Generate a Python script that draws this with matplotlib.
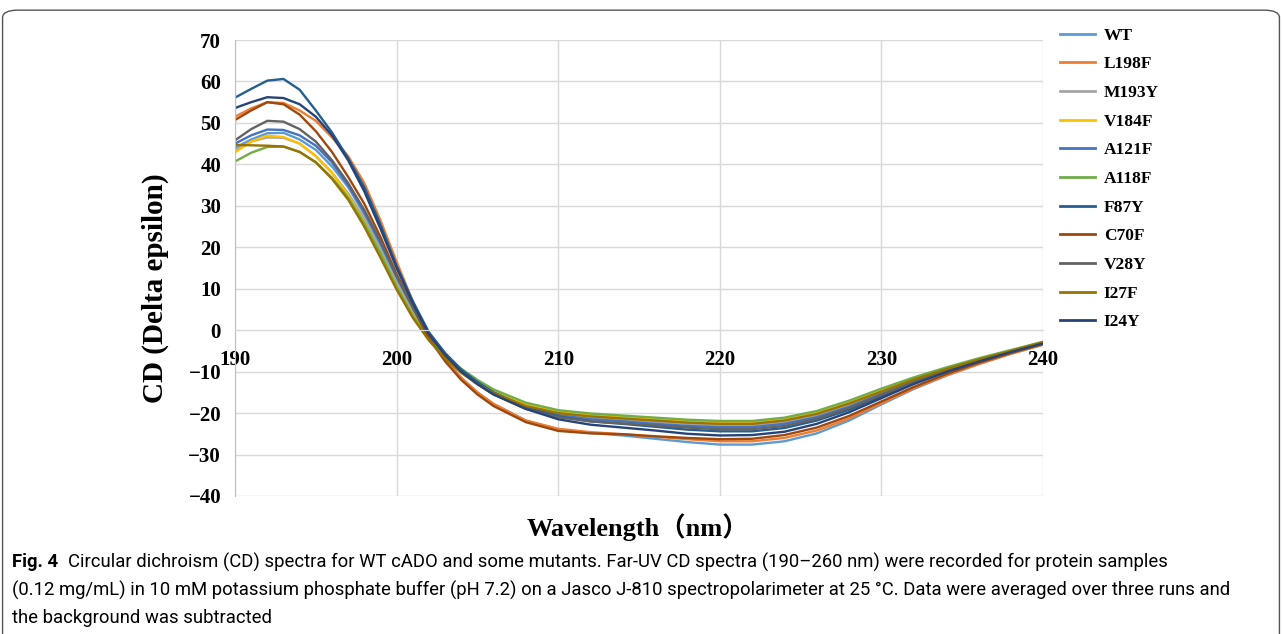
import matplotlib.pyplot as plt
from matplotlib.patches import FancyBboxPatch
from matplotlib.lines import Line2D

# wavelength (nm)
wl = [190, 191, 192, 193, 194, 195, 196, 197, 198, 199, 200, 201, 202, 203, 204, 205, 206,
      208, 210, 212, 214, 216, 218, 220, 222, 224, 226, 228, 230, 232, 234, 236, 238, 240]

names = ['WT', 'L198F', 'M193Y', 'V184F', 'A121F', 'A118F', 'F87Y', 'C70F', 'V28Y', 'I27F', 'I24Y']
colors = ['#5B9BD5', '#ED7D31', '#A5A5A5', '#FFC000', '#4472C4', '#70AD47',
          '#255E91', '#9E480E', '#636363', '#997300', '#264478']

wt = [44.0, 46.0, 47.5, 47.6, 46.0, 43.5, 39.5, 34.5, 28.0, 20.5, 12.5, 5.0, -1.5, -7.0, -11.5, -15.0, -17.8,
      -21.8, -23.9, -24.8, -25.4, -26.2, -27.0, -27.6, -27.6, -26.8, -24.9, -21.8, -17.9, -14.2, -11.0, -8.2, -5.7, -3.5]
l198f = [51.5, 53.5, 55.0, 54.8, 53.0, 50.5, 46.5, 42.0, 35.5, 26.5, 16.5, 7.0, -1.5, -7.0, -11.5, -15.0, -17.8,
         -21.8, -23.8, -24.6, -25.1, -25.7, -26.3, -26.8, -26.8, -26.0, -24.2, -21.3, -17.6, -14.0, -10.9, -8.2, -5.7, -3.5]
m193y = [43.5, 45.5, 46.5, 46.4, 45.0, 42.0, 38.0, 33.0, 27.0, 19.5, 11.5, 4.5, -1.5, -6.0, -9.8, -12.8, -15.2,
         -18.5, -20.2, -21.2, -21.6, -22.1, -22.6, -23.0, -23.0, -22.2, -20.6, -18.1, -15.1, -12.2, -9.6, -7.2, -5.0, -2.9]
v184f = [42.9, 45.5, 46.9, 46.6, 45.0, 42.0, 38.0, 32.5, 26.0, 18.5, 10.5, 3.5, -2.0, -6.0, -9.5, -12.3, -14.6,
         -17.8, -19.6, -20.4, -20.9, -21.4, -21.9, -22.2, -22.2, -21.5, -20.0, -17.5, -14.6, -11.8, -9.3, -7.0, -4.9, -2.9]
a121f = [45.0, 47.0, 48.4, 48.3, 47.0, 44.5, 40.5, 35.0, 28.5, 21.0, 13.0, 5.5, -1.0, -6.0, -10.0, -13.0, -15.5,
         -18.8, -20.5, -21.5, -22.0, -22.6, -23.1, -23.4, -23.4, -22.6, -21.0, -18.5, -15.4, -12.4, -9.7, -7.3, -5.1, -3.0]
a118f = [40.7, 42.8, 44.2, 44.3, 43.0, 40.5, 36.8, 32.0, 25.8, 18.5, 10.5, 3.5, -2.0, -6.0, -9.3, -12.0, -14.3,
         -17.5, -19.3, -20.1, -20.6, -21.1, -21.6, -21.9, -21.9, -21.1, -19.5, -17.0, -14.1, -11.4, -9.0, -6.8, -4.8, -2.8]
f87y = [56.1, 58.2, 60.2, 60.6, 58.0, 53.0, 47.7, 41.5, 34.5, 25.5, 15.5, 7.0, -0.5, -5.5, -9.5, -12.5, -15.0,
        -18.5, -20.8, -22.0, -22.6, -23.3, -24.0, -24.4, -24.4, -23.6, -21.8, -19.2, -16.0, -12.8, -10.0, -7.6, -5.3, -3.2]
c70f = [50.7, 53.0, 55.0, 54.5, 52.0, 48.0, 43.0, 37.0, 30.5, 22.5, 13.5, 5.5, -2.0, -7.5, -12.0, -15.5, -18.3,
        -22.2, -24.3, -24.9, -25.1, -25.6, -26.0, -26.3, -26.2, -25.3, -23.5, -20.7, -17.2, -13.7, -10.6, -7.9, -5.5, -3.3]
v28y = [45.8, 48.5, 50.5, 50.3, 48.5, 45.5, 41.0, 35.5, 29.0, 21.5, 13.0, 5.5, -1.0, -6.0, -10.0, -13.0, -15.5,
        -19.0, -21.0, -22.0, -22.5, -23.0, -23.5, -23.9, -23.9, -23.1, -21.4, -18.8, -15.6, -12.5, -9.8, -7.4, -5.2, -3.1]
i27f = [44.7, 44.6, 44.5, 44.3, 43.0, 40.5, 36.5, 31.5, 25.0, 17.5, 9.8, 3.0, -2.5, -6.8, -10.3, -13.0, -15.2,
        -18.3, -20.0, -20.8, -21.3, -21.8, -22.3, -22.6, -22.6, -21.8, -20.2, -17.7, -14.8, -11.9, -9.4, -7.1, -5.0, -2.9]
i24y = [53.6, 55.0, 56.2, 56.0, 54.5, 51.5, 47.0, 41.0, 33.5, 24.5, 15.0, 6.5, -1.0, -6.0, -10.0, -13.0, -15.5,
        -19.0, -21.5, -22.8, -23.5, -24.2, -25.0, -25.4, -25.3, -24.5, -22.6, -19.8, -16.4, -13.0, -10.1, -7.6, -5.3, -3.2]

series = [wt, l198f, m193y, v184f, a121f, a118f, f87y, c70f, v28y, i27f, i24y]

serif = ['Liberation Serif', 'DejaVu Serif']

fig = plt.figure(figsize=(12.82, 6.34), dpi=100)
ax = fig.add_axes([0.1833, 0.2177, 0.6303, 0.7192])

for name, col, ys in zip(names, colors, series):
    ax.plot(wl, ys, color=col, lw=1.7, label=name, solid_capstyle='round', solid_joinstyle='round')

ax.set_xlim(190, 240)
ax.set_ylim(-40, 70)
ax.set_xticks(range(190, 241, 10))
ax.set_yticks(range(-40, 71, 10))
ax.grid(True, color='#D9D9D9', lw=1)
ax.set_axisbelow(True)
for s in ['top', 'right']:
    ax.spines[s].set_visible(False)
ax.spines['left'].set_color('#BFBFBF')
ax.spines['bottom'].set_position(('data', 0))
ax.spines['bottom'].set_color('#D9D9D9')
ax.tick_params(length=0, labelsize=15)
ax.tick_params(axis='x', pad=14)
ax.tick_params(axis='y', pad=10)
for lab in ax.get_xticklabels() + ax.get_yticklabels():
    lab.set_fontfamily(serif)
    lab.set_fontweight('bold')

fig.text(0.121, 0.546, 'CD (Delta epsilon)', rotation=90, ha='center', va='center',
         fontsize=21, fontweight='bold', family=serif)
fig.text(0.498, 0.169, 'Wavelength（nm）', ha='center', va='center',
         fontsize=19, fontweight='bold', family=['Liberation Serif', 'Noto Sans CJK SC'])

handles = [Line2D([0], [0], color=c, lw=2) for c in colors]
leg = fig.legend(handles, names, loc='upper left', bbox_to_anchor=(0.815, 0.981),
                 frameon=False, handlelength=2.0, handletextpad=0.5, labelspacing=0.72,
                 prop={'family': serif, 'weight': 'bold', 'size': 12.5})

# caption
cap = ['Liberation Sans Narrow', 'Roboto']
fs = 13.3
fig.text(0.009, 0.1136, 'Fig. 4', fontsize=fs, fontweight='bold', family=cap, va='center')
fig.text(0.053, 0.1136, 'Circular dichroism (CD) spectra for WT cADO and some mutants. Far-UV CD spectra '
         '(190–260 nm) were recorded for protein samples', fontsize=fs, family=cap, va='center')
fig.text(0.009, 0.069, '(0.12 mg/mL) in 10 mM potassium phosphate buffer (pH 7.2) on a Jasco J-810 '
         'spectropolarimeter at 25 °C. Data were averaged over three runs and', fontsize=fs, family=cap, va='center')
fig.text(0.009, 0.025, 'the background was subtracted', fontsize=fs, family=cap, va='center')

border = FancyBboxPatch((0.002, -0.05), 0.996, 1.034, boxstyle='round,pad=0,rounding_size=0.012',
                        transform=fig.transFigure, fill=False, ec='#555555', lw=1)
fig.patches.append(border)

fig.savefig('out.png', dpi=100)
